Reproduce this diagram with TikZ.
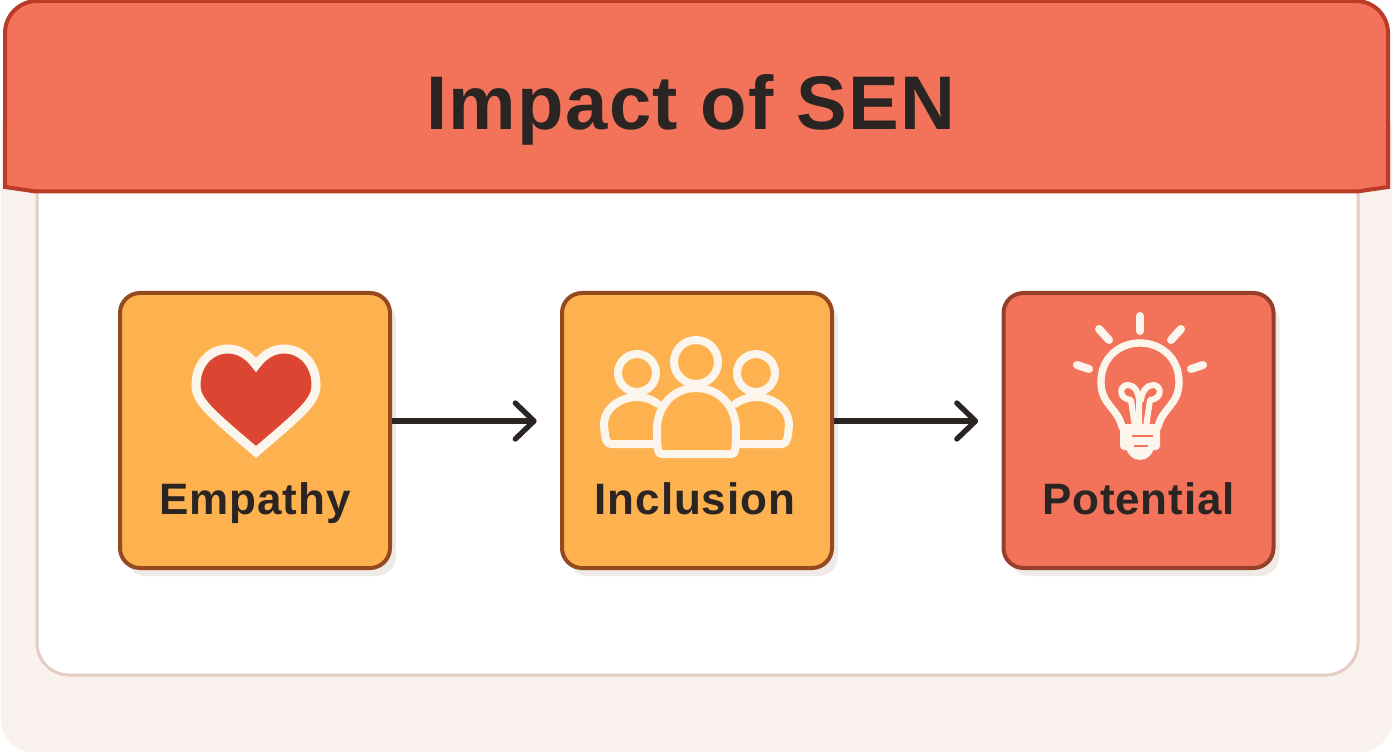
\documentclass[tikz,border=0pt]{standalone}
\usepackage{xcolor}
\usepackage{fontspec}
\setmainfont{Liberation Sans}
\usepackage{tikz}
\usetikzlibrary{arrows.meta,shadows,positioning}
\definecolor{headfill}{HTML}{F2735A}
\definecolor{headline}{HTML}{BB3B28}
\definecolor{pagefill}{HTML}{F9F1ED}
\definecolor{panelline}{HTML}{E5CDC4}
\definecolor{orangefill}{HTML}{FDB24F}
\definecolor{orangeline}{HTML}{94491F}
\definecolor{redline}{HTML}{96402C}
\definecolor{heartred}{HTML}{DC4531}
\definecolor{iconwhite}{HTML}{FBF5EC}
\definecolor{inkdark}{HTML}{2A2522}
\definecolor{shadowgrey}{HTML}{EFEAE6}
\begin{document}
\begin{tikzpicture}[x=0.75pt,y=-0.75pt]
						\tikzstyle{bbox}=[rectangle,rounded corners=15pt,draw,line width=3pt,minimum width=202.5pt,minimum height=206.25pt,drop shadow={shadow xshift=4.5pt,shadow yshift=-6pt,fill=shadowgrey,opacity=1}]
						\tikzstyle{boxlabel}=[font=\fontsize{33}{33}\selectfont\bfseries\addfontfeature{LetterSpace=2},text=inkdark,inner sep=0pt]
						\tikzstyle{flow}=[line width=4pt,draw=inkdark,shorten >=17.5pt,-{Straight Barb[length=14pt,width=27pt,round]}]
						\tikzstyle{iconline}=[draw=iconwhite,line width=6pt,line cap=round,line join=round]
						\useasboundingbox (0,0) rectangle (1392,752);
						\fill[white] (0,0) rectangle (1392,752);
						\fill[pagefill,rounded corners=24pt] (1,100) rectangle (1392,752);
						\draw[fill=white,draw=panelline,line width=2.25pt,rounded corners=24pt] (37,120) rectangle (1358,675);
						\draw[fill=headfill,draw=headline,line width=3pt] (5,187) -- (36,191.5) -- (1357,191.5) -- (1388,187) {[rounded corners=24pt] -- (1388,1) -- (5,1)} -- cycle;
						\node[font=\fontsize{57}{57}\selectfont\bfseries\addfontfeature{LetterSpace=1.8},text=inkdark,inner sep=0pt,anchor=base] (title) at (691,130) {Impact of SEN};
						\node[bbox,fill=orangefill,draw=orangeline] (empathy) at (255,430.5) {};
						\node[bbox,fill=orangefill,draw=orangeline] (inclusion) at (697,430.5) {};
						\node[bbox,fill=headfill,draw=redline] (potential) at (1138.5,430.5) {};
						\node[boxlabel,anchor=base] (empathylabel) at (255,514) {Empathy};
						\node[boxlabel,anchor=base] (inclusionlabel) at (695,514) {Inclusion};
						\node[boxlabel,anchor=base] (potentiallabel) at (1138.5,514) {Potential};
						\draw[flow] ([yshift=7.1pt]empathy.east) -- ([yshift=7.1pt]inclusion.west);
						\draw[flow] ([yshift=7.1pt]inclusion.east) -- ([yshift=7.1pt]potential.west);
						\draw[fill=heartred,draw=iconwhite,line width=6.75pt,line join=miter] (256,365) .. controls (248,354) and (238,349) .. (228,349) .. controls (210,349) and (196,364) .. (196,385) .. controls (196,401) and (208,411) .. (256,452) .. controls (304,411) and (316,401) .. (316,385) .. controls (316,364) and (302,349) .. (284,349) .. controls (274,349) and (264,354) .. (256,365) -- cycle;
						\draw[iconline] (637,373) circle (14.25pt);
						\draw[iconline] (756,373) circle (14.25pt);
						\draw[iconline] (696,362) circle (16.5pt);
						\draw[iconline] (655,444) -- (611,444) .. controls (606,444) and (605,438) .. (604,425) .. controls (604,407) and (622,397) .. (637,397) .. controls (644,397) and (651,399) .. (658,404);
						\draw[iconline] (738,444) -- (782,444) .. controls (787,444) and (788,438) .. (789,425) .. controls (789,407) and (771,397) .. (756,397) .. controls (749,397) and (742,399) .. (735,404);
						\draw[iconline] (662,454) -- (732,454) .. controls (735,454) and (736,450) .. (736,430) .. controls (736,405) and (718,388) .. (696,388) .. controls (674,388) and (657,405) .. (657,430) .. controls (657,450) and (658,454) .. (662,454) -- cycle;
						\foreach \xa/\ya/\xb/\yb in {1140/316/1140/331,1099/329/1109/340,1181/329/1171/340,1077/365/1089/369,1203/365/1191/369}
							\draw[iconline] (\xa,\ya) -- (\xb,\yb);
						\draw[iconline,line width=5.5pt] (1122,427) .. controls (1118,408) and (1101,405) .. (1101,382) .. controls (1101,358) and (1119,343) .. (1140,343) .. controls (1161,343) and (1179,358) .. (1179,382) .. controls (1179,405) and (1162,408) .. (1158,427);
						\draw[iconline,line width=4.5pt] (1135,427) -- (1131,400) .. controls (1118,399) and (1119,385) .. (1128,385) .. controls (1135,385) and (1138,392) .. (1139,400) -- (1139,427);
						\draw[iconline,line width=4.5pt] (1146,427) -- (1150,400) .. controls (1163,399) and (1162,385) .. (1153,385) .. controls (1146,385) and (1142,392) .. (1141,400);
						\fill[iconwhite,rounded corners=3pt] (1120,424) rectangle (1160,450);
						\fill[iconwhite] (1126,445) -- (1154,445) .. controls (1154,454) and (1147,460) .. (1140,460) .. controls (1133,460) and (1126,454) .. (1126,445) -- cycle;
						\draw[headfill,line width=2pt] (1132,436) -- (1153,436);
						\draw[headfill,line width=2pt] (1134,446) -- (1148,446);
					\end{tikzpicture}
\end{document}
